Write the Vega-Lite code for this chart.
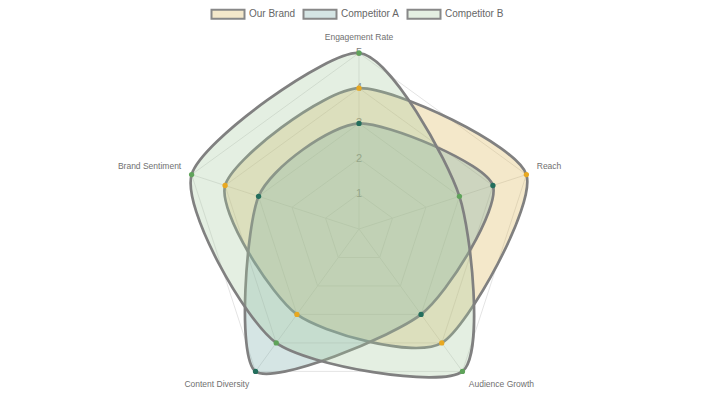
{
  "$schema": "https://vega.github.io/schema/vega-lite/v6.json",
  "width": 720,
  "height": 417,
  "autosize": "none",
  "padding": 0,
  "background": "white",
  "config": {"view": {"stroke": null}, "font": "Liberation Sans"},
  "datasets": {
    "scores": [
      {"series": "Our Brand", "axis": "Engagement Rate", "idx": 0, "value": 4},
      {"series": "Our Brand", "axis": "Reach", "idx": 1, "value": 5},
      {"series": "Our Brand", "axis": "Audience Growth", "idx": 2, "value": 4},
      {"series": "Our Brand", "axis": "Content Diversity", "idx": 3, "value": 3},
      {"series": "Our Brand", "axis": "Brand Sentiment", "idx": 4, "value": 4},
      {"series": "Competitor A", "axis": "Engagement Rate", "idx": 0, "value": 3},
      {"series": "Competitor A", "axis": "Reach", "idx": 1, "value": 4},
      {"series": "Competitor A", "axis": "Audience Growth", "idx": 2, "value": 3},
      {"series": "Competitor A", "axis": "Content Diversity", "idx": 3, "value": 5},
      {"series": "Competitor A", "axis": "Brand Sentiment", "idx": 4, "value": 3},
      {"series": "Competitor B", "axis": "Engagement Rate", "idx": 0, "value": 5},
      {"series": "Competitor B", "axis": "Reach", "idx": 1, "value": 3},
      {"series": "Competitor B", "axis": "Audience Growth", "idx": 2, "value": 5},
      {"series": "Competitor B", "axis": "Content Diversity", "idx": 3, "value": 4},
      {"series": "Competitor B", "axis": "Brand Sentiment", "idx": 4, "value": 5}
    ],
    "axes": [
      {"axis": "Engagement Rate", "idx": 0, "levels": [1, 2, 3, 4, 5]},
      {"axis": "Reach", "idx": 1, "levels": [1, 2, 3, 4, 5]},
      {"axis": "Audience Growth", "idx": 2, "levels": [1, 2, 3, 4, 5]},
      {"axis": "Content Diversity", "idx": 3, "levels": [1, 2, 3, 4, 5]},
      {"axis": "Brand Sentiment", "idx": 4, "levels": [1, 2, 3, 4, 5]}
    ]
  },
  "encoding": {
    "x": {"field": "x", "type": "quantitative", "axis": null, "scale": {"domain": [-10.199, 10.256], "nice": false, "zero": false}},
    "y": {"field": "y", "type": "quantitative", "axis": null, "scale": {"domain": [-5.341, 6.506], "nice": false, "zero": false}}
  },
  "layer": [
    {
      "data": {"name": "axes"},
      "transform": [
        {"flatten": ["levels"], "as": ["level"]},
        {"calculate": "datum.idx * 2 * PI / 5", "as": "theta"},
        {"calculate": "datum.level * sin(datum.theta)", "as": "x"},
        {"calculate": "datum.level * cos(datum.theta)", "as": "y"}
      ],
      "mark": {"type": "line", "interpolate": "linear-closed", "stroke": "#e4e4e4", "strokeWidth": 1},
      "encoding": {"detail": {"field": "level"}, "order": {"field": "idx", "type": "quantitative"}}
    },
    {
      "data": {"name": "axes"},
      "transform": [
        {"calculate": "datum.idx * 2 * PI / 5", "as": "theta"},
        {"calculate": "5 * sin(datum.theta)", "as": "x"},
        {"calculate": "5 * cos(datum.theta)", "as": "y"}
      ],
      "mark": {"type": "rule", "stroke": "#e4e4e4", "strokeWidth": 1},
      "encoding": {
        "x": {"datum": 0, "type": "quantitative"},
        "y": {"datum": 0, "type": "quantitative"},
        "x2": {"field": "x"},
        "y2": {"field": "y"}
      }
    },
    {
      "data": {"name": "axes"},
      "transform": [
        {"filter": "datum.idx == 0"},
        {"flatten": ["levels"], "as": ["level"]},
        {"calculate": "0", "as": "x"},
        {"calculate": "datum.level", "as": "y"}
      ],
      "mark": {"type": "text", "fontSize": 11, "fill": "#808080", "align": "center", "baseline": "middle"},
      "encoding": {
        "text": {"field": "level", "type": "quantitative"}
      }
    },
    {
      "data": {"name": "scores"},
      "transform": [
        {"calculate": "datum.idx * 2 * PI / 5", "as": "theta"},
        {"calculate": "datum.value * sin(datum.theta)", "as": "x"},
        {"calculate": "datum.value * cos(datum.theta)", "as": "y"}
      ],
      "mark": {"type": "line", "interpolate": "cardinal-closed", "tension": 0.3, "stroke": "#808080", "strokeWidth": 2.7, "fillOpacity": 0.3},
      "encoding": {
        "fill": {
          "field": "series", "type": "nominal",
          "scale": {"domain": ["Our Brand", "Competitor A", "Competitor B"], "range": ["#dcb450", "#73a8a5", "#a5ca9e"]},
          "legend": {
            "title": null, "orient": "none", "legendX": 217, "legendY": 3, "direction": "horizontal",
            "symbolType": "M-1.65,-0.45H1.65V0.45H-1.65Z", "symbolSize": 400,
            "symbolStrokeColor": "#888", "symbolStrokeWidth": 2,
            "labelFontSize": 10, "labelColor": "#666", "labelOffset": 10, "columnPadding": 3, "padding": 0,
            "encode": {"symbols": {"update": {"fill": {"scale": "fill", "field": "value"}, "fillOpacity": {"value": 0.3}, "opacity": {"value": 1}, "stroke": {"value": "#888"}, "strokeWidth": {"value": 2}}}}
          }
        },
        "detail": {"field": "series"},
        "order": {"field": "idx", "type": "quantitative"}
      }
    },
    {
      "data": {"name": "scores"},
      "transform": [
        {"calculate": "datum.idx * 2 * PI / 5", "as": "theta"},
        {"calculate": "datum.value * sin(datum.theta)", "as": "x"},
        {"calculate": "datum.value * cos(datum.theta)", "as": "y"}
      ],
      "mark": {"type": "point", "filled": true, "size": 28, "opacity": 1},
      "encoding": {
        "color": {
          "field": "series", "type": "nominal", "legend": null,
          "scale": {"domain": ["Our Brand", "Competitor A", "Competitor B"], "range": ["#e8a820", "#236e5c", "#5fa35a"]}
        }
      }
    },
    {
      "data": {"name": "axes"},
      "transform": [
        {"filter": "datum.idx == 0"},
        {"calculate": "datum.idx * 2 * PI / 5", "as": "theta"},
        {"calculate": "5.31 * sin(datum.theta)", "as": "x"},
        {"calculate": "5.31 * cos(datum.theta)", "as": "y"}
      ],
      "mark": {"type": "text", "fontSize": 8.5, "color": "#707070", "align": "center", "baseline": "bottom"},
      "encoding": {"text": {"field": "axis"}}
    },
    {
      "data": {"name": "axes"},
      "transform": [
        {"filter": "datum.idx == 1"},
        {"calculate": "datum.idx * 2 * PI / 5", "as": "theta"},
        {"calculate": "5.31 * sin(datum.theta)", "as": "x"},
        {"calculate": "5.31 * cos(datum.theta)", "as": "y"}
      ],
      "mark": {"type": "text", "fontSize": 8.5, "color": "#707070", "align": "left", "baseline": "bottom"},
      "encoding": {"text": {"field": "axis"}}
    },
    {
      "data": {"name": "axes"},
      "transform": [
        {"filter": "datum.idx == 2"},
        {"calculate": "datum.idx * 2 * PI / 5", "as": "theta"},
        {"calculate": "5.31 * sin(datum.theta)", "as": "x"},
        {"calculate": "5.31 * cos(datum.theta)", "as": "y"}
      ],
      "mark": {"type": "text", "fontSize": 8.5, "color": "#707070", "align": "left", "baseline": "top"},
      "encoding": {"text": {"field": "axis"}}
    },
    {
      "data": {"name": "axes"},
      "transform": [
        {"filter": "datum.idx == 3"},
        {"calculate": "datum.idx * 2 * PI / 5", "as": "theta"},
        {"calculate": "5.31 * sin(datum.theta)", "as": "x"},
        {"calculate": "5.31 * cos(datum.theta)", "as": "y"}
      ],
      "mark": {"type": "text", "fontSize": 8.5, "color": "#707070", "align": "right", "baseline": "top"},
      "encoding": {"text": {"field": "axis"}}
    },
    {
      "data": {"name": "axes"},
      "transform": [
        {"filter": "datum.idx == 4"},
        {"calculate": "datum.idx * 2 * PI / 5", "as": "theta"},
        {"calculate": "5.31 * sin(datum.theta)", "as": "x"},
        {"calculate": "5.31 * cos(datum.theta)", "as": "y"}
      ],
      "mark": {"type": "text", "fontSize": 8.5, "color": "#707070", "align": "right", "baseline": "bottom"},
      "encoding": {"text": {"field": "axis"}}
    }
  ]
}
